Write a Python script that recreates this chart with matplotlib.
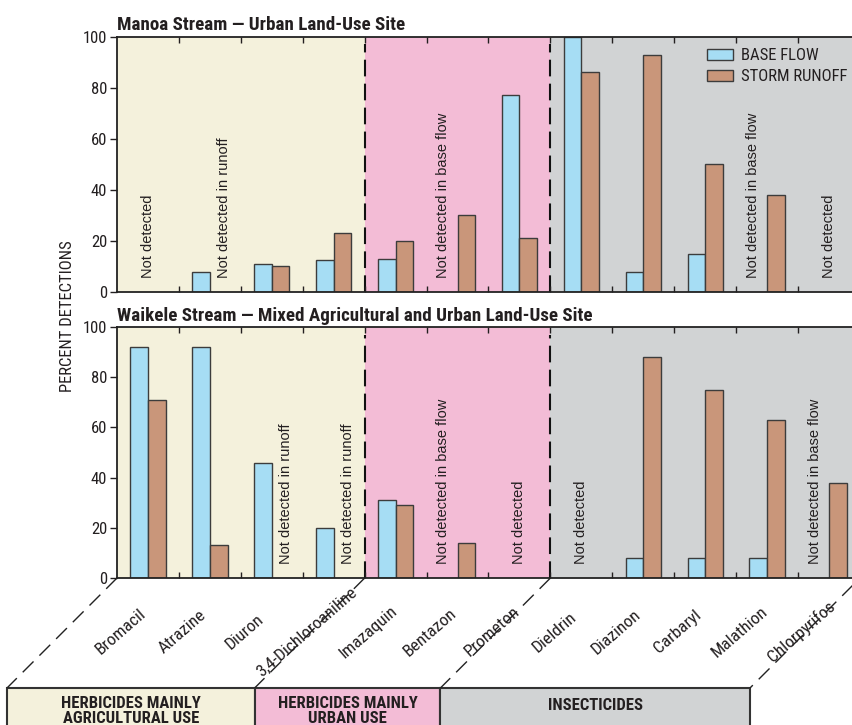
import numpy as np
import matplotlib
matplotlib.use("Agg")
import matplotlib.pyplot as plt
from matplotlib.patches import Rectangle, Patch
from matplotlib.lines import Line2D

# ---- data -------------------------------------------------------------
compounds = ["Bromacil", "Atrazine", "Diuron", "3,4-Dichloroaniline",
             "Imazaquin", "Bentazon", "Prometon", "Dieldrin", "Diazinon",
             "Carbaryl", "Malathion", "Chlorpyrifos"]

manoa_base = [np.nan, 8, 11, 12.5, 13, np.nan, 77, 100, 8, 15, np.nan, np.nan]
manoa_runoff = [np.nan, np.nan, 10, 23, 20, 30, 21, 86, 93, 50, 38, np.nan]

waikele_base = [92, 92, 46, 20, 31, np.nan, np.nan, np.nan, 8, 8, 8, np.nan]
waikele_runoff = [71, 13, np.nan, np.nan, 29, 14, np.nan, np.nan, 88, 75, 63, 38]

# (compound index, slot, text)  slot: -1 base-flow slot, 0 centre, +1 runoff slot
manoa_notes = [(0, 0, "Not detected"), (1, 1, "Not detected in runoff"),
               (5, -1, "Not detected in base flow"),
               (10, -1, "Not detected in base flow"), (11, 0, "Not detected")]
waikele_notes = [(2, 1, "Not detected in runoff"), (3, 1, "Not detected in runoff"),
                 (5, -1, "Not detected in base flow"), (6, 0, "Not detected"),
                 (7, 0, "Not detected"), (11, -1, "Not detected in base flow")]

groups = [("HERBICIDES MAINLY\nAGRICULTURAL USE", 0, 4),
          ("HERBICIDES MAINLY\nURBAN USE", 4, 7),
          ("INSECTICIDES", 7, 12)]

y_ticks = [0, 20, 40, 60, 80, 100]
series_names = ["BASE FLOW", "STORM RUNOFF"]

# ---- style ------------------------------------------------------------
C_BASE = "#a6ddf4"
C_RUN = "#c9967a"
C_EDGE = "#3c3c3c"
GROUP_COLORS = ["#f4f1dc", "#f3bcd6", "#d1d3d4"]
TXT = "#231f20"

NARROW = ["Liberation Sans Narrow", "Roboto Condensed", "Liberation Sans", "DejaVu Sans"]
plt.rcParams["font.family"] = NARROW

W, H = 853, 725
fig = plt.figure(figsize=(W / 100, H / 100), dpi=100)

AX_L, AX_R = 117, 860


def add_panel(top_px, bot_px):
    return fig.add_axes([AX_L / W, 1 - bot_px / H, (AX_R - AX_L) / W,
                         (bot_px - top_px) / H])


ax1 = add_panel(36.7, 292)
ax2 = add_panel(327, 578)

n = len(compounds)
x = np.arange(n) + 0.5
bw = 0.286


def draw_panel(ax, base, runoff, notes, title):
    for (label, a, b), col in zip(groups, GROUP_COLORS):
        ax.axvspan(a, b, color=col, lw=0, zorder=0)
    for b in (4, 7):
        ax.plot([b, b], [0, 97], color="#111111", lw=1.5,
                dashes=(8, 3.5), zorder=1)
    ax.bar(x - bw / 2, base, bw, color=C_BASE, edgecolor=C_EDGE, lw=1.0, zorder=2)
    ax.bar(x + bw / 2, runoff, bw, color=C_RUN, edgecolor=C_EDGE, lw=1.0, zorder=2)
    for i, slot, txt in notes:
        ax.text(x[i] + slot * 0.23, 5.5, txt, rotation=90, ha="center",
                va="bottom", fontsize=10.5, color=TXT,
                family=["Liberation Sans", "DejaVu Sans"], zorder=3)
    ax.set_xlim(0, n)
    ax.set_ylim(0, 100)
    ax.set_yticks(y_ticks)
    ax.tick_params(axis="y", direction="out", length=5, width=1,
                   labelsize=12, colors=TXT, pad=2)
    ax.set_xticks(np.arange(1, n))
    ax.tick_params(axis="x", direction="in", length=4, width=1,
                   top=True, bottom=True, labelbottom=False, colors=TXT)
    for s in ("left", "bottom", "top"):
        ax.spines[s].set_linewidth(1.3)
        ax.spines[s].set_color("#222222")
    ax.spines["right"].set_visible(False)
    ax.text(0, 1.025, title, transform=ax.transAxes, ha="left", va="baseline",
            fontsize=13.7, fontweight="bold", color=TXT)


draw_panel(ax1, manoa_base, manoa_runoff, manoa_notes,
           "Manoa Stream \u2014 Urban Land-Use Site")
draw_panel(ax2, waikele_base, waikele_runoff, waikele_notes,
           "Waikele Stream \u2014 Mixed Agricultural and Urban Land-Use Site")

# legend in the upper panel
handles = [Patch(facecolor=C_BASE, edgecolor=C_EDGE, lw=1.0),
           Patch(facecolor=C_RUN, edgecolor=C_EDGE, lw=1.0)]
ax1.legend(handles, series_names, loc="upper left",
           bbox_to_anchor=(0.794, 0.955), frameon=False, fontsize=12,
           handlelength=1.55, handleheight=0.62, handletextpad=0.5,
           labelspacing=0.35, borderpad=0, borderaxespad=0,
           labelcolor=TXT)

# compound names under the lower panel
for i, name in enumerate(compounds):
    ax2.text(x[i] - 0.44, -0.215, name, transform=ax2.get_xaxis_transform(),
             rotation=41, rotation_mode="anchor", ha="center", va="center",
             fontsize=12.5, color=TXT)

fig.text(67 / W, 1 - 316 / H, "PERCENT DETECTIONS", rotation=90,
         ha="center", va="center", fontsize=12, color=TXT)

# overlay in pixel units for the group boxes and leader lines
ov = fig.add_axes([0, 0, 1, 1], zorder=-1)
ov.set_xlim(0, W)
ov.set_ylim(H, 0)
ov.axis("off")

cat_w = (AX_R - AX_L) / n
BOX_TOP = 688
DROP = BOX_TOP - 578
for k, (label, a, b) in enumerate(groups):
    xa = AX_L + a * cat_w - DROP
    xb = AX_L + b * cat_w - DROP
    ov.add_patch(Rectangle((xa, BOX_TOP), xb - xa, 60, facecolor=GROUP_COLORS[k],
                           edgecolor="#333333", lw=1.5))
    ov.text((xa + xb) / 2, 706 if "\n" not in label else 711, label,
            ha="center", va="center", fontsize=12, fontweight="bold",
            color=TXT, linespacing=0.92)
for bnd in (0, 4, 7, 12):
    x0 = AX_L + bnd * cat_w
    ov.add_line(Line2D([x0, x0 - DROP], [578, BOX_TOP], color="#222222",
                       lw=1.0, dashes=(11, 6)))

fig.savefig("out.png", dpi=100)
